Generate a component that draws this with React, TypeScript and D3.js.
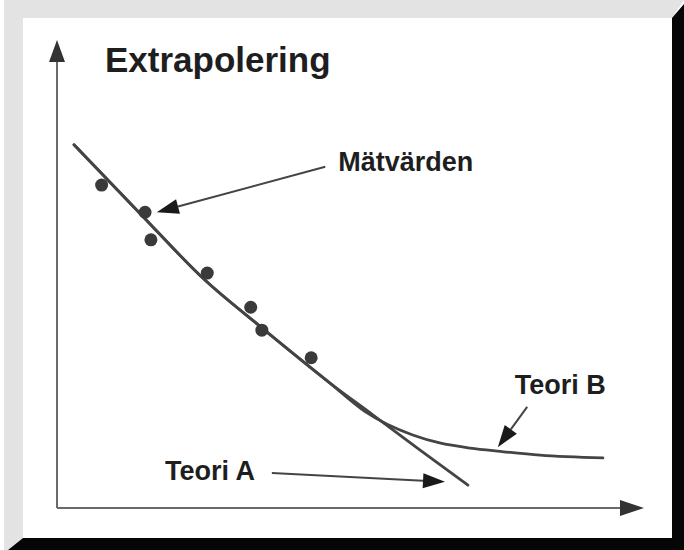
import React from "react";
import * as d3 from "d3";

const W = 684;
const H = 550;

// Data in abstract units (0..100 on each axis)
const theoryAx = [2.9, 14.1, 25.2, 34.9, 46.5, 53.8, 61.8, 70.0];
const theoryAy = [77.6, 63.0, 48.7, 38.5, 26.7, 19.9, 12.4, 4.9];

const theoryBx = [2.9, 14.1, 25.2, 34.9, 46.5, 52.5, 60.6, 65.2, 70.4, 75.5, 82.3, 93.0];
const theoryBy = [77.6, 63.0, 48.7, 38.5, 26.7, 20.6, 15.6, 13.9, 12.8, 12.1, 11.3, 10.7];

const measX = [7.6, 15.0, 16.0, 25.6, 33.0, 34.9, 43.3];
const measY = [69.0, 63.2, 57.3, 50.2, 42.9, 38.0, 32.1];

const labels = ["Mätvärden", "Teori A", "Teori B"];
const labelX = [47.9, 18.4, 78.0];
const labelY = [72.0, 6.0, 24.4];
const arrowFromX = [45.7, 36.6, 80.1];
const arrowFromY = [72.9, 7.5, 21.6];
const arrowToX = [17.0, 66.1, 75.1];
const arrowToY = [63.2, 5.6, 13.0];

const title = "Extrapolering";

const x = d3.scaleLinear().domain([0, 100]).range([57, 644]);
const y = d3.scaleLinear().domain([0, 100]).range([508, 40]);

function arrowHead(tx: number, ty: number, fx: number, fy: number, len: number, half: number) {
  const dx = tx - fx;
  const dy = ty - fy;
  const d = Math.sqrt(dx * dx + dy * dy);
  const ux = dx / d;
  const uy = dy / d;
  const bx = tx - ux * len;
  const by = ty - uy * len;
  const px = -uy;
  const py = ux;
  return {
    pts: `${tx},${ty} ${bx + px * half},${by + py * half} ${bx - px * half},${by - py * half}`,
    bx,
    by,
  };
}

export default function App() {
  const line = d3
    .line<[number, number]>()
    .x((d) => x(d[0]))
    .y((d) => y(d[1]))
    .curve(d3.curveMonotoneX);

  const aPts: [number, number][] = theoryAx.map((v, i) => [v, theoryAy[i]]);
  const bPts: [number, number][] = theoryBx.map((v, i) => [v, theoryBy[i]]);

  const x0 = x(0);
  const y0 = y(0);
  const yTop = y(100);
  const xEnd = x(100);
  const yAxisHead = arrowHead(x0, yTop, x0, y0, 22, 8);
  const xAxisHead = arrowHead(xEnd, y0, x0, y0, 24, 8);

  return (
    <svg
      width={W}
      height={H}
      style={{ position: "absolute", left: 0, top: 0, display: "block" }}
      fontFamily="'Liberation Sans', Arial, sans-serif"
    >
      <rect x={0} y={0} width={W} height={H} fill="#ffffff" />
      {/* bevel frame */}
      <polygon points={`4,0 ${W},0 672,18 23,18 23,538 8,${H} 4,${H}`} fill="#e3e3e3" />
      <polygon points={`${W},4 ${W},${H} 8,${H} 23,538 672,538 672,18`} fill="#060606" />
      <rect x={23} y={18} width={649} height={520} fill="#ffffff" />

      {/* axes */}
      <line x1={x0} y1={y0} x2={x0} y2={yAxisHead.by} stroke="#6a6a6a" strokeWidth={2} />
      <polygon points={yAxisHead.pts} fill="#333" />
      <line x1={x0} y1={y0} x2={xAxisHead.bx} y2={y0} stroke="#6a6a6a" strokeWidth={2} />
      <polygon points={xAxisHead.pts} fill="#333" />

      {/* title */}
      <text x={105} y={72} fontSize={35} fontWeight="bold" fill="#1e1e1e">
        {title}
      </text>

      {/* theory curves */}
      <path d={line(bPts) || ""} fill="none" stroke="#444" strokeWidth={2.8} strokeLinecap="round" />
      <path d={line(aPts) || ""} fill="none" stroke="#444" strokeWidth={2.8} strokeLinecap="round" />

      {/* measurements */}
      {measX.map((v, i) => (
        <circle key={i} cx={x(v)} cy={y(measY[i])} r={6.5} fill="#3a3a3a" />
      ))}

      {/* annotations */}
      {labels.map((t, i) => {
        const fx = x(arrowFromX[i]);
        const fy = y(arrowFromY[i]);
        const tx = x(arrowToX[i]);
        const ty = y(arrowToY[i]);
        const h = arrowHead(tx, ty, fx, fy, 22, 7.5);
        return (
          <g key={t}>
            <line x1={fx} y1={fy} x2={h.bx} y2={h.by} stroke="#444" strokeWidth={2} />
            <polygon points={h.pts} fill="#1a1a1a" />
            <text x={x(labelX[i])} y={y(labelY[i])} fontSize={27} fontWeight="bold" fill="#1e1e1e">
              {t}
            </text>
          </g>
        );
      })}
    </svg>
  );
}
